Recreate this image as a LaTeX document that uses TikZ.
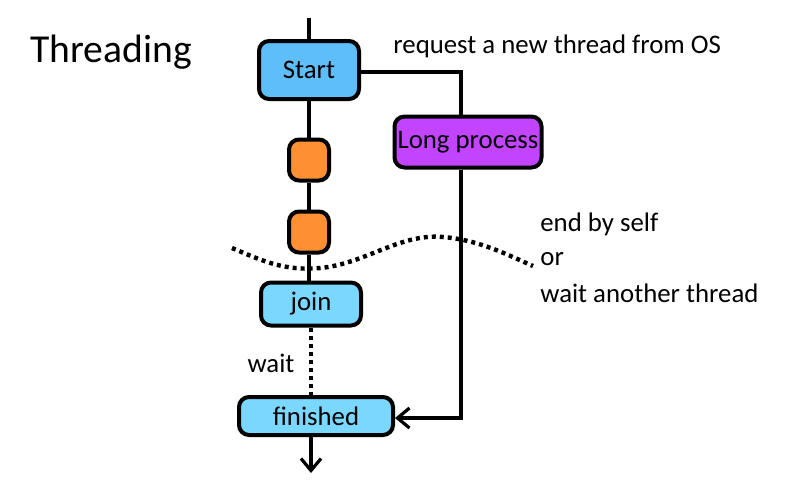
\documentclass[tikz,border=0pt]{standalone}
\usepackage{fontspec}
\setmainfont{Carlito}
\usetikzlibrary{arrows.meta}
\definecolor{startblue}{HTML}{5EBEFA}
\definecolor{lightblue}{HTML}{7AD8FF}
\definecolor{orangebox}{HTML}{FF8F33}
\definecolor{purplebox}{HTML}{C244FF}
\tikzset{
  box/.style={draw=black, line width=2pt, rounded corners=5pt, inner sep=0pt, font=\fontsize{13.4}{15}\selectfont},
  conn/.style={line width=1.6pt},
  dotline/.style={line width=2.2pt, dash pattern=on 2pt off 2pt},
  lbl/.style={font=\fontsize{13.4}{15}\selectfont, inner sep=0pt, anchor=west},
  tip/.style={-{Straight Barb[length=6pt,width=10pt,line width=1.6pt]}}
}
\begin{document}
\begin{tikzpicture}[x=0.5pt,y=-0.5pt]
\useasboundingbox (0,0) rectangle (800,500);
\node[lbl, font=\fontsize{19.8}{22}\selectfont] (title) at (30,52) {Threading};
\node[box, fill=startblue, minimum width=50pt, minimum height=29pt] (start) at (309,70) {Start};
\node[box, fill=orangebox, minimum width=20pt, minimum height=20.5pt] (o1) at (309,160) {};
\node[box, fill=orangebox, minimum width=20pt, minimum height=20.5pt] (o2) at (309,232) {};
\node[box, fill=lightblue, minimum width=50pt, minimum height=21.5pt] (join) at (311,304) {join};
\node[box, fill=lightblue, minimum width=77pt, minimum height=19pt] (fin) at (316,416) {finished};
\node[box, fill=purplebox, minimum width=73.5pt, minimum height=25.5pt] (long) at (468,142) {Long process};
\coordinate (top) at (309,18);
\coordinate (bot) at (311,473);
\coordinate (corner1) at (461,72);
\coordinate (corner2) at (461,418);
\node[lbl] (req) at (393,46) {request a new thread from OS};
\node[lbl] (end) at (540,224) {end by self};
\node[lbl] (or) at (540,259) {or};
\node[lbl] (wao) at (540,293) {wait another thread};
\node[lbl, anchor=center] (wait) at (271,363) {wait};
\draw[conn] (top) -- (start.north);
\draw[conn] (start.south) -- (o1.north);
\draw[conn] (o1.south) -- (o2.north);
\draw[conn] (o2.south) -- (o2.south |- join.north);
\draw[conn] (start.east |- corner1) -- (corner1) -- (corner1 |- long.north);
\draw[conn, tip] (corner2 |- long.south) -- (corner2) -- (fin.east |- corner2);
\draw[dotline] (join.south -| 311,0) -- (fin.north -| 311,0);
\draw[conn, tip] (fin.south -| bot) -- (bot);
\draw[dotline] (232,248) .. controls (265,262) and (285,271) .. (320,268)
  .. controls (365,264) and (400,233) .. (443,237)
  .. controls (480,240) and (510,256) .. (533,266);
\end{tikzpicture}
\end{document}
